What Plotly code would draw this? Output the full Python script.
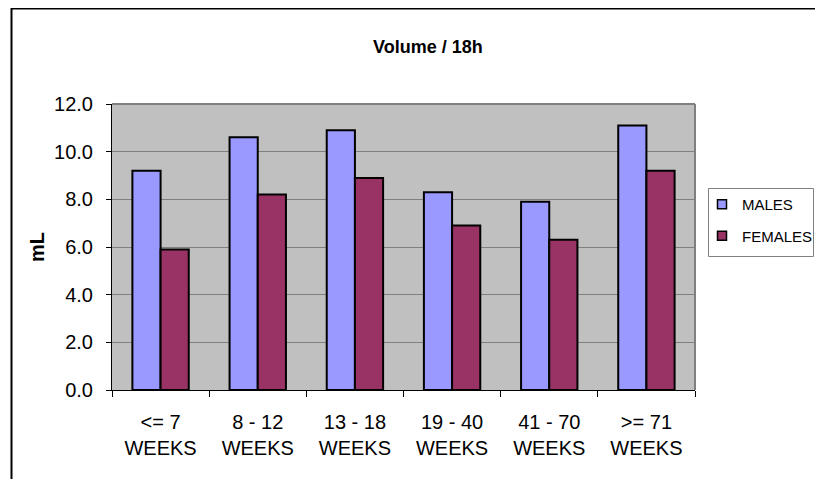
import plotly.graph_objects as go

categories = ["<= 7<br>WEEKS", "8 - 12<br>WEEKS", "13 - 18<br>WEEKS",
              "19 - 40<br>WEEKS", "41 - 70<br>WEEKS", ">= 71<br>WEEKS"]
males = [9.2, 10.6, 10.9, 8.3, 7.9, 11.1]
females = [5.9, 8.2, 8.9, 6.9, 6.3, 9.2]
y_ticks = [0, 2, 4, 6, 8, 10, 12]
y_tick_labels = ["0.0", "2.0", "4.0", "6.0", "8.0", "10.0", "12.0"]

FONT = "Arial, 'Liberation Sans', sans-serif"
OFF = 8  # page body margin offset

MALE_C = "#9999FF"
FEMALE_C = "#993366"

fig = go.Figure()
fig.add_trace(go.Bar(x=categories, y=males, name="MALES",
                     marker=dict(color=MALE_C, line=dict(color="black", width=2)),
                     showlegend=False))
fig.add_trace(go.Bar(x=categories, y=females, name="FEMALES",
                     marker=dict(color=FEMALE_C, line=dict(color="black", width=2)),
                     showlegend=False))
# legend entries with small square swatches
for nm, col in [("MALES", MALE_C), ("FEMALES", FEMALE_C)]:
    fig.add_trace(go.Scatter(x=[None], y=[None], mode="markers", name=nm,
                             marker=dict(symbol="square", size=9, color=col,
                                         line=dict(color="black", width=1.5)),
                             legendgroup=nm))

# page-coordinate layout targets
L, R, T, B = 112 - OFF, 695 - OFF, 104 - OFF, 390 - OFF
W, H = 823 - 2 * OFF, 487 - 2 * OFF
pw, ph = R - L, B - T

def px(x):
    return (x - OFF - L) / pw

def py(y):
    return (B - (y - OFF)) / ph

fig.update_layout(
    width=W, height=H,
    margin=dict(l=L, r=W - R, t=T, b=H - B, pad=0, autoexpand=False),
    paper_bgcolor="white",
    plot_bgcolor="#C0C0C0",
    font=dict(family=FONT, size=20, color="black"),
    barmode="group",
    bargap=0.42,
    bargroupgap=0,
    showlegend=True,
    legend=dict(
        x=px(702), y=py(188), xanchor="left", yanchor="top",
        borderwidth=0, bgcolor="rgba(0,0,0,0)",
        font=dict(family=FONT, size=15),
        traceorder="grouped", tracegroupgap=9,
        itemwidth=30,
    ),
    xaxis=dict(
        type="category",
        showline=True, linecolor="black", linewidth=1,
        ticks="outside", ticklen=6, tickcolor="black",
        tickson="boundaries",
        showgrid=False,
        ticklabelstandoff=14,
        tickfont=dict(size=20),
    ),
    yaxis=dict(
        range=[0, 12],
        tickvals=y_ticks, ticktext=y_tick_labels,
        showline=True, linecolor="black", linewidth=1,
        ticks="outside", ticklen=5, tickcolor="black",
        showgrid=True, gridcolor="#808080", gridwidth=1,
        zeroline=False,
        ticklabelstandoff=9,
        tickfont=dict(size=20),
    ),
    shapes=[
        dict(type="rect", xref="paper", yref="paper",
             x0=px(11.5), x1=px(840), y0=py(8.5), y1=py(500),
             line=dict(color="black", width=2), fillcolor="rgba(0,0,0,0)",
             layer="below"),
        dict(type="line", xref="paper", yref="paper",
             x0=0, x1=1, y0=1, y1=1,
             line=dict(color="#808080", width=2)),
        dict(type="line", xref="paper", yref="paper",
             x0=1, x1=1, y0=0, y1=1,
             line=dict(color="#808080", width=2)),
        # legend box
        dict(type="rect", xref="paper", yref="paper",
             x0=px(708.5), x1=px(813.5), y0=py(188.5), y1=py(256.5),
             line=dict(color="#808080", width=1), fillcolor="white",
             layer="above"),
    ],
    annotations=[
        dict(text="<b>Volume / 18h</b>", xref="paper", yref="paper",
             x=px(428), y=py(47), xanchor="center", yanchor="middle",
             showarrow=False, font=dict(family=FONT, size=18)),
        dict(text="<b>mL</b>", xref="paper", yref="paper",
             x=px(37), y=py(247), xanchor="center", yanchor="middle",
             textangle=-90, showarrow=False, font=dict(family=FONT, size=20)),
    ],
)

fig.write_html("out.html")
